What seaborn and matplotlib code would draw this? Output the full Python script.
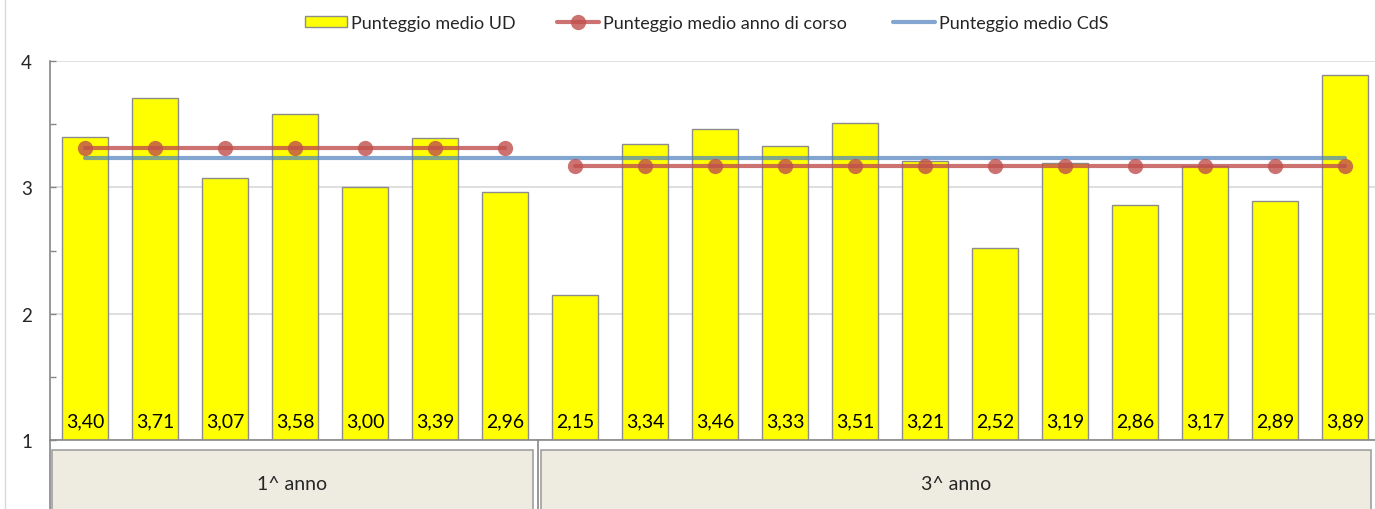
import numpy as np
import pandas as pd
import matplotlib
matplotlib.use("Agg")
import matplotlib.pyplot as plt
import matplotlib.transforms as mtransforms
from matplotlib.patches import Rectangle
from matplotlib.lines import Line2D
import seaborn as sns

# dati
punteggi_ud = [3.40, 3.71, 3.07, 3.58, 3.00, 3.39, 2.96,
               2.15, 3.34, 3.46, 3.33, 3.51, 3.21, 2.52, 3.19, 2.86, 3.17, 2.89, 3.89]
anni = ["1^ anno"] * 7 + ["3^ anno"] * 12
gruppi = ["1^ anno", "3^ anno"]
media_anno = [3.31, 3.17]
media_cds = 3.23
etichette_legenda = ["Punteggio medio UD", "Punteggio medio anno di corso",
                     "Punteggio medio CdS"]

sns.set_theme(style="white")
plt.rcParams["font.family"] = ["Lato", "DejaVu Sans"]

df = pd.DataFrame({"ud": [f"UD{i + 1}" for i in range(len(punteggi_ud))],
                   "punteggio": punteggi_ud, "anno": anni})
df["pos"] = np.arange(len(df))
df["media_anno"] = [media_anno[gruppi.index(a)] for a in anni]
df["media_cds"] = media_cds

fig = plt.figure(figsize=(13.75, 5.1), dpi=100)
ax = fig.add_axes([50 / 1375, 69 / 510, 1330 / 1375, 379 / 510])

sns.barplot(data=df, x="ud", y="punteggio", color="#FFFF00", saturation=1,
            width=0.66, ax=ax, zorder=2)
for p in ax.patches:
    p.set_edgecolor("#8C8C8C")
    p.set_linewidth(1)

for g in gruppi:
    sub = df[df["anno"] == g]
    sns.lineplot(data=sub, x="pos", y="media_anno", color="#C0504D", alpha=0.8,
                 linewidth=3, marker="o", markersize=11, markeredgewidth=0,
                 ax=ax, zorder=4)
sns.lineplot(data=df, x="pos", y="media_cds", color="#4F81BD", alpha=0.7,
             linewidth=3, ax=ax, zorder=3)

for i, v in enumerate(punteggi_ud):
    ax.text(i, 1.15, f"{v:.2f}".replace(".", ","), ha="center", va="center",
            fontsize=14, color="black", zorder=5)

ax.set_xlim(-0.5, len(punteggi_ud) - 0.5)
ax.set_ylim(1, 4)
ax.set_yticks([1, 2, 3, 4])
ax.set_yticks([1.5, 2.5, 3.5], minor=True)
ax.tick_params(axis="y", which="both", left=True, direction="in", length=4,
               width=1, color="#868686", labelsize=13.5, pad=13)
ax.tick_params(axis="x", bottom=False, labelbottom=False)
ax.set_xlabel("")
ax.set_ylabel("")
ax.grid(axis="y", which="major", color="#D9D9D9", linewidth=1.2, zorder=0)
ax.set_axisbelow(True)
for s in ["top", "right"]:
    ax.spines[s].set_visible(False)
for s in ["left", "bottom"]:
    ax.spines[s].set_color("#868686")
    ax.spines[s].set_linewidth(1.2)
ax.spines["left"].set_bounds(1, 4)

# riquadri delle categorie sotto l'asse
trans = mtransforms.blended_transform_factory(ax.transData, ax.transAxes)
box_edges = [(-0.47, 6.40), (6.51, 18.37)]
for (x0, x1), g in zip(box_edges, gruppi):
    ax.add_patch(Rectangle((x0, -0.4), x1 - x0, 0.4 - 0.026, transform=trans,
                           facecolor="#EEEBE0", edgecolor="#A0A0A0", linewidth=1.2,
                           clip_on=False))
    ax.text((x0 + x1) / 2, -0.115, g, transform=trans, ha="center", va="center",
            fontsize=14)
for xv in [-0.5, 6.47]:
    ax.add_line(Line2D([xv, xv], [0, -0.4], transform=trans, color="#868686",
                       linewidth=1.2, clip_on=False))

fig.add_artist(Line2D([5 / 1375, 5 / 1375], [0, 1], color="#D9D9D9", linewidth=1))

# legenda: tre voci posizionate come nell'originale
handles = [
    Rectangle((0, 0), 1, 1, facecolor="#FFFF00", edgecolor="#8C8C8C", linewidth=1),
    Line2D([], [], color="#C0504D", alpha=0.8, linewidth=3, marker="o",
           markersize=11, markeredgewidth=0),
    Line2D([], [], color="#4F81BD", alpha=0.7, linewidth=3),
]
x_voci = [305, 557, 893]
for h, lab, xp in zip(handles, etichette_legenda, x_voci):
    fig.legend([h], [lab], loc="center left", bbox_to_anchor=(xp / 1375, 1 - 24 / 510),
               frameon=False, fontsize=13, handlelength=2.3, handleheight=0.6,
               handletextpad=0.25, borderpad=0, borderaxespad=0)

fig.savefig("out.png", dpi=100)
